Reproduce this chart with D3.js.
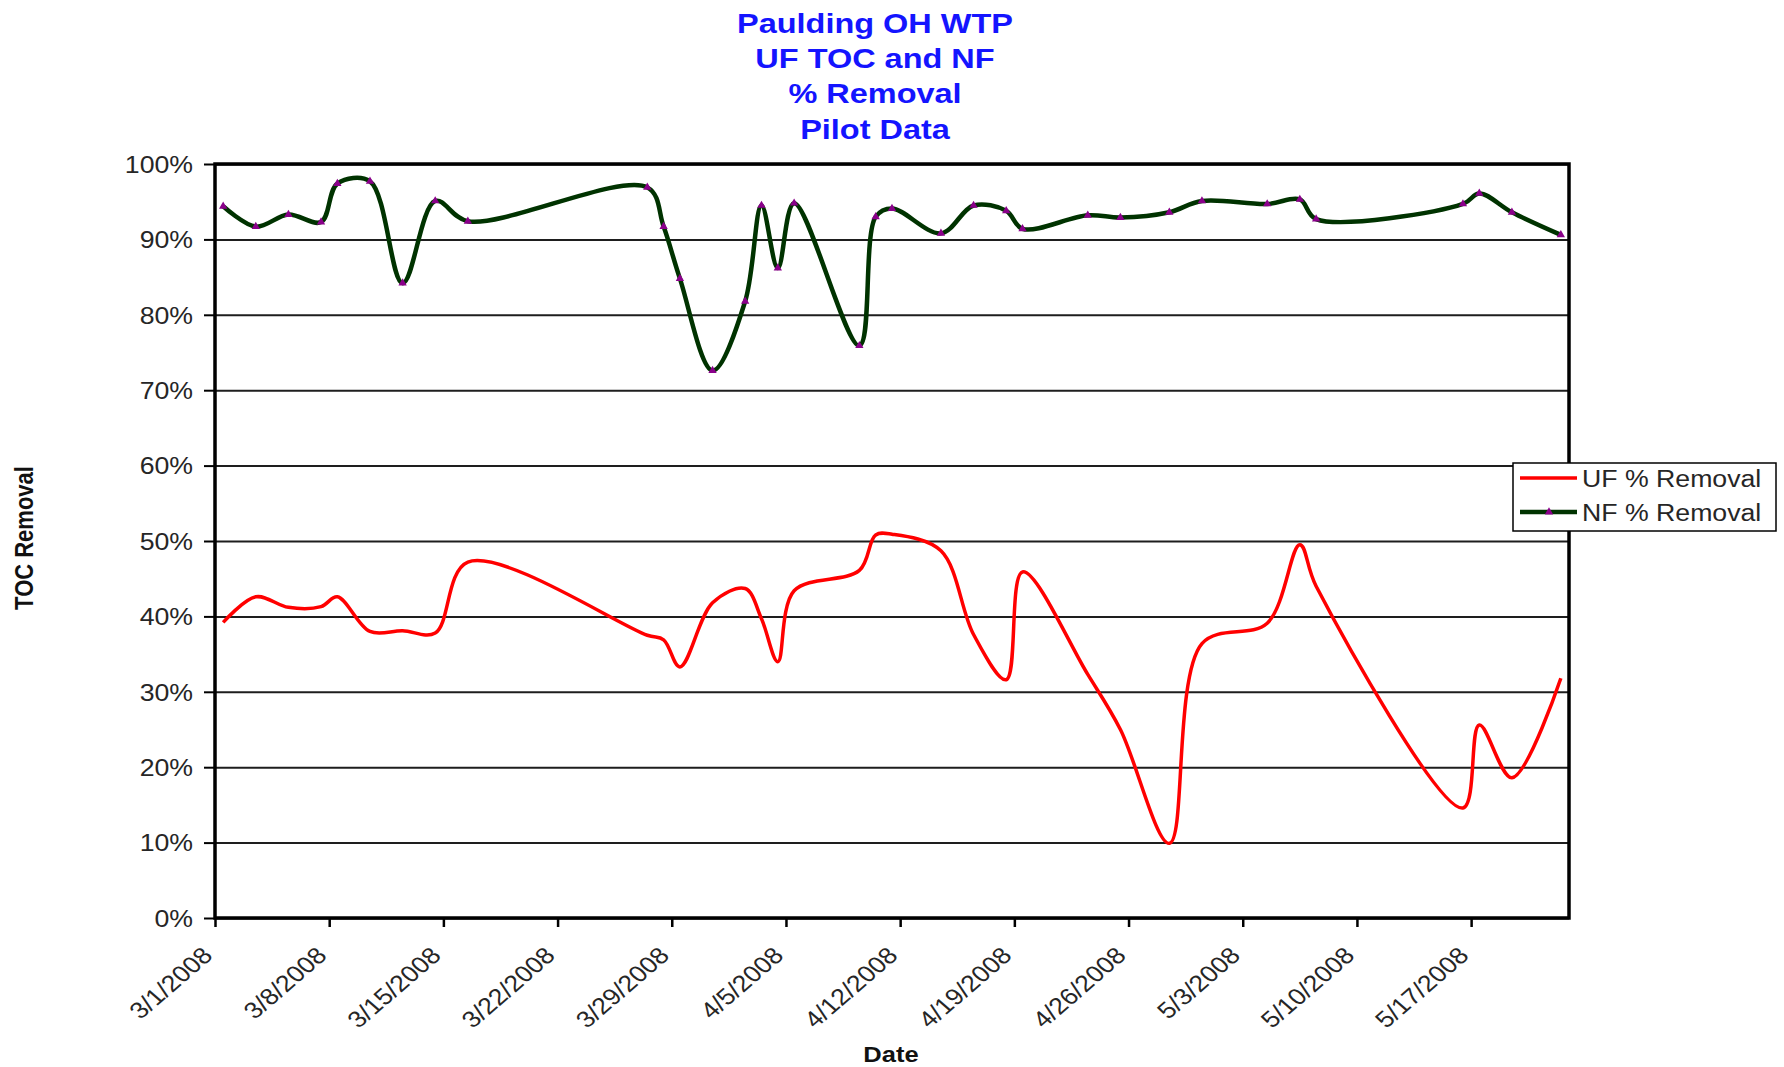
<!DOCTYPE html>
<html>
<head>
<meta charset="utf-8">
<script src="https://cdn.jsdelivr.net/npm/d3@7"></script>
<style>
  html, body { margin: 0; padding: 0; background: #fff; }
  svg { display: block; }
  text { font-family: "Liberation Sans", Arial, Helvetica, sans-serif; }
</style>
</head>
<body>
<svg id="chart" width="1784" height="1067"></svg>
<script>
// ---- data -------------------------------------------------------------
const sampleDates = [
  "2008-03-01","2008-03-03","2008-03-05","2008-03-07","2008-03-08","2008-03-10",
  "2008-03-12","2008-03-14","2008-03-16","2008-03-27","2008-03-28","2008-03-29",
  "2008-03-31","2008-04-02","2008-04-03","2008-04-04","2008-04-05","2008-04-09",
  "2008-04-10","2008-04-11","2008-04-14","2008-04-16","2008-04-18","2008-04-19",
  "2008-04-23","2008-04-25","2008-04-28","2008-04-30","2008-05-04","2008-05-06",
  "2008-05-07","2008-05-16","2008-05-17","2008-05-19","2008-05-22"
];
const ufRemoval = [
  0.392,0.426,0.412,0.413,0.426,0.380,
  0.381,0.378,0.472,0.375,0.369,0.333,
  0.418,0.437,0.397,0.340,0.434,0.461,
  0.508,0.509,0.487,0.376,0.316,0.459,
  0.323,0.250,0.099,0.364,0.391,0.495,
  0.440,0.146,0.256,0.186,0.318
];
const nfRemoval = [
  0.944,0.917,0.933,0.923,0.974,0.977,
  0.842,0.951,0.924,0.969,0.917,0.848,
  0.726,0.818,0.945,0.862,0.948,0.759,
  0.930,0.941,0.908,0.945,0.938,0.914,
  0.932,0.929,0.936,0.951,0.947,0.953,
  0.927,0.947,0.961,0.936,0.906
];
const seriesNames = ["UF % Removal", "NF % Removal"];
const titleLines = ["Paulding OH WTP", "UF TOC and NF", "% Removal", "Pilot Data"];
const yTickValues = [0, 0.1, 0.2, 0.3, 0.4, 0.5, 0.6, 0.7, 0.8, 0.9, 1.0];
const xTickDates = [
  "2008-03-01","2008-03-08","2008-03-15","2008-03-22","2008-03-29","2008-04-05",
  "2008-04-12","2008-04-19","2008-04-26","2008-05-03","2008-05-10","2008-05-17"
];
const xDomainDates = ["2008-03-01", "2008-05-23"];
const xAxisTitle = "Date";
const yAxisTitle = "TOC Removal";

// ---- layout -----------------------------------------------------------
const W = 1784, H = 1067;
const plot = { left: 215, right: 1569, top: 164, bottom: 918 };
const SX = 1.16;                 // horizontal stretch applied to all text
const TEXT_DARK = "#262626";
const UF_COLOR = "#ff0000";
const NF_COLOR = "#003300";
const MARKER_COLOR = "#8a008a";

const parse = d3.timeParse("%Y-%m-%d");
const svg = d3.select("#chart");

const x = d3.scaleTime()
  .domain(xDomainDates.map(parse))
  .range([plot.left, plot.right]);
const y = d3.scaleLinear()
  .domain([0, 1])
  .range([plot.bottom, plot.top]);

// each sample sits in the middle of its day slot
const pointDate = s => d3.timeHour.offset(parse(s), 12);
const ufData = sampleDates.map((s, i) => ({ date: pointDate(s), v: ufRemoval[i] }));
const nfData = sampleDates.map((s, i) => ({ date: pointDate(s), v: nfRemoval[i] }));

// ---- title ------------------------------------------------------------
const title = svg.append("g").attr("class", "title");
titleLines.forEach((t, i) => {
  title.append("text")
    .attr("transform", `translate(875,${33 + i * 35.2}) scale(${SX},1)`)
    .attr("text-anchor", "middle")
    .attr("font-size", 28)
    .attr("font-weight", "bold")
    .attr("fill", "#1414ff")
    .text(t);
});

// ---- gridlines --------------------------------------------------------
svg.append("g")
  .attr("class", "grid")
  .attr("transform", `translate(${plot.left},0)`)
  .call(d3.axisLeft(y).tickValues(yTickValues).tickSize(-(plot.right - plot.left)).tickFormat(""))
  .call(g => g.select(".domain").remove())
  .call(g => g.selectAll("line").attr("stroke", "#1e1e1e").attr("stroke-width", 2));

// ---- y axis -----------------------------------------------------------
const yAxisG = svg.append("g")
  .attr("class", "y-axis")
  .attr("transform", `translate(${plot.left},0)`)
  .call(d3.axisLeft(y).tickValues(yTickValues).tickSize(11).tickFormat(d3.format(".0%")));
yAxisG.select(".domain").remove();
yAxisG.selectAll("line").attr("stroke", "#000").attr("stroke-width", 2);
yAxisG.selectAll("text")
  .attr("x", -22 / SX)
  .attr("dy", "0.36em")
  .attr("transform", `scale(${SX},1)`)
  .attr("font-size", 23)
  .attr("font-family", "'Liberation Sans', Arial, sans-serif")
  .attr("fill", TEXT_DARK);

// ---- x axis -----------------------------------------------------------
const xAxisG = svg.append("g")
  .attr("class", "x-axis")
  .attr("transform", `translate(0,${plot.bottom})`)
  .call(d3.axisBottom(x).tickValues(xTickDates.map(parse)).tickSize(9).tickFormat(d3.timeFormat("%-m/%-d/%Y")));
xAxisG.select(".domain").remove();
xAxisG.selectAll("line").attr("stroke", "#000").attr("stroke-width", 2.5);
xAxisG.selectAll("text")
  .attr("x", 0).attr("y", 0).attr("dy", 0)
  .attr("text-anchor", "end")
  .attr("transform", `translate(-1.5,39) scale(${SX},1) rotate(-45)`)
  .attr("font-size", 23)
  .attr("font-family", "'Liberation Sans', Arial, sans-serif")
  .attr("fill", TEXT_DARK);

// ---- plot frame -------------------------------------------------------
svg.append("rect")
  .attr("x", plot.left).attr("y", plot.top)
  .attr("width", plot.right - plot.left)
  .attr("height", plot.bottom - plot.top)
  .attr("fill", "none")
  .attr("stroke", "#000")
  .attr("stroke-width", 3.5);

// ---- series -----------------------------------------------------------
const line = d3.line()
  .x(d => x(d.date))
  .y(d => y(d.v))
  .curve(d3.curveCatmullRom.alpha(0.5));

svg.append("path")
  .datum(ufData)
  .attr("fill", "none")
  .attr("stroke", UF_COLOR)
  .attr("stroke-width", 3.5)
  .attr("stroke-linejoin", "round")
  .attr("d", line);

svg.append("path")
  .datum(nfData)
  .attr("fill", "none")
  .attr("stroke", NF_COLOR)
  .attr("stroke-width", 4.5)
  .attr("stroke-linejoin", "round")
  .attr("d", line);

const tri = d3.symbol().type(d3.symbolTriangle).size(30);
svg.append("g")
  .selectAll("path")
  .data(nfData)
  .join("path")
  .attr("transform", d => `translate(${x(d.date)},${y(d.v)})`)
  .attr("d", tri)
  .attr("fill", MARKER_COLOR);

// ---- axis titles ------------------------------------------------------
svg.append("text")
  .attr("transform", `translate(891,1062) scale(${SX},1)`)
  .attr("text-anchor", "middle")
  .attr("font-size", 22)
  .attr("font-weight", "bold")
  .attr("fill", "#111")
  .text(xAxisTitle);

svg.append("text")
  .attr("transform", `translate(33,538) scale(${SX},1) rotate(-90)`)
  .attr("text-anchor", "middle")
  .attr("font-size", 22)
  .attr("font-weight", "bold")
  .attr("fill", "#111")
  .text(yAxisTitle);

// ---- legend -----------------------------------------------------------
const legend = svg.append("g").attr("class", "legend");
legend.append("rect")
  .attr("x", 1513).attr("y", 463)
  .attr("width", 263).attr("height", 68)
  .attr("fill", "#fff")
  .attr("stroke", "#000")
  .attr("stroke-width", 1.5);

const legendItems = [
  { name: seriesNames[0], color: UF_COLOR, width: 3.5, marker: false },
  { name: seriesNames[1], color: NF_COLOR, width: 4.5, marker: true }
];
legendItems.forEach((item, i) => {
  const cy = 478 + i * 34;
  legend.append("line")
    .attr("x1", 1520).attr("x2", 1577)
    .attr("y1", cy).attr("y2", cy)
    .attr("stroke", item.color)
    .attr("stroke-width", item.width);
  if (item.marker) {
    legend.append("path")
      .attr("transform", `translate(1549,${cy})`)
      .attr("d", tri)
      .attr("fill", MARKER_COLOR);
  }
  legend.append("text")
    .attr("transform", `translate(1582,${cy + 8.5}) scale(${SX},1)`)
    .attr("font-size", 23)
    .attr("fill", TEXT_DARK)
    .text(item.name);
});
</script>
</body>
</html>
